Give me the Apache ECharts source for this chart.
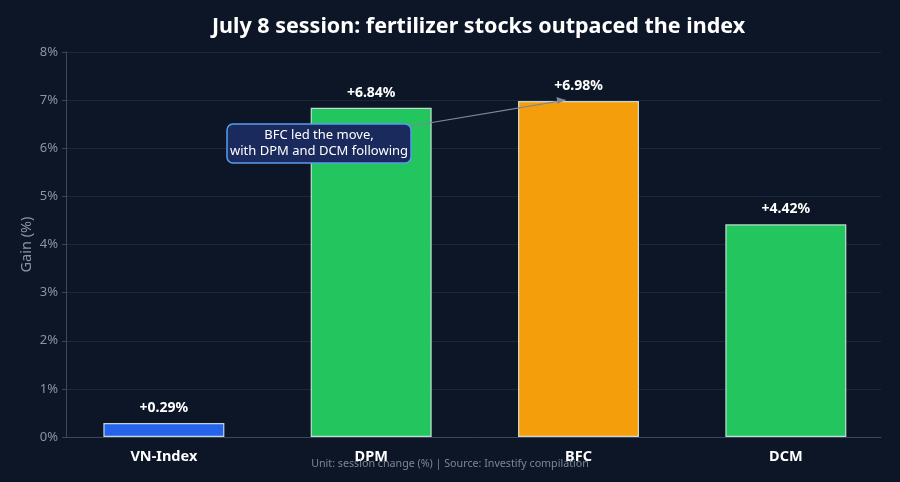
<!DOCTYPE html>
<html>
<head>
    <meta charset="utf-8">
    <title>ECharts</title>
    <script src="https://cdn.jsdelivr.net/npm/echarts@6/dist/echarts.min.js"></script>
    <style>
      body, canvas {
        padding: 0;
        margin: 0;
        background: #0c1626;
      }
    </style>
</head>
<body>
    <div id="main"></div>
    <script type="text/javascript">
      const main = document.getElementById('main')
      main.style.width = window.innerWidth + 'px'
      main.style.height = window.innerHeight + 'px'
      var myChart = echarts.init(main);

      const categories = ['VN-Index', 'DPM', 'BFC', 'DCM'];
      const gains = [0.29, 6.84, 6.98, 4.42];
      const barColors = ['#2563eb', '#22c55e', '#f59e0b', '#22c55e'];
      const yTicks = [0, 8, 1]; // min, max, interval

      const font = '"Noto Sans", sans-serif';

      option = {
        backgroundColor: '#0c1626',
        animation: false,
        textStyle: { fontFamily: font },
        title: {
          text: 'July 8 session: fertilizer stocks outpaced the index',
          left: 473.5,
          textAlign: 'center',
          top: 11,
          textStyle: { color: '#ffffff', fontSize: 21.5, fontWeight: 'bold', fontFamily: font }
        },
        grid: { left: 66, right: 19, top: 52, bottom: 45 },
        // category positions on a numeric scale so the outer margins match
        xAxis: {
          type: 'value',
          min: -0.472,
          max: 3.459,
          axisLine: { show: true, onZero: false, lineStyle: { color: '#3b475a' } },
          axisTick: { show: false },
          splitLine: { show: false },
          axisLabel: {
            customValues: categories.map((c, i) => i),
            formatter: v => categories[Math.round(v)] || '',
            color: '#ffffff', fontSize: 14.5, fontWeight: 'bold', margin: 12, fontFamily: font
          }
        },
        yAxis: {
          type: 'value',
          min: yTicks[0],
          max: yTicks[1],
          interval: yTicks[2],
          name: 'Gain (%)',
          nameLocation: 'middle',
          nameGap: 32,
          nameMoveOverlap: false,
          nameTextStyle: { color: '#8a94a6', fontSize: 14.5, fontFamily: font },
          axisLine: { show: true, onZero: false, lineStyle: { color: '#3b475a' } },
          axisTick: { show: true, length: 4, lineStyle: { color: '#3b475a' } },
          axisLabel: { color: '#8a94a6', fontSize: 13, formatter: '{value}%', fontFamily: font },
          splitLine: { lineStyle: { color: '#1c283a' } }
        },
        series: [{
          type: 'bar',
          barWidth: 121,
          data: gains.map((v, i) => ({
            value: [i, v],
            itemStyle: { color: barColors[i] }
          })),
          itemStyle: { borderColor: 'rgba(225,240,235,0.85)', borderWidth: 1.2 },
          label: {
            show: true,
            position: 'top',
            distance: 8,
            color: '#ffffff',
            fontSize: 14,
            fontWeight: 'bold',
            fontFamily: font,
            formatter: p => '+' + p.value[1].toFixed(2) + '%'
          }
        }]
      };
      myChart.setOption(option);

      // annotation pointing at BFC bar top
      const tip = myChart.convertToPixel({ gridIndex: 0 }, [2, gains[2]]);
      myChart.setOption({
        graphic: [
          {
            type: 'line',
            z: 100,
            shape: { x1: 405, y1: 127, x2: tip[0] - 13, y2: tip[1] - 1 },
            style: { stroke: '#7d8898', lineWidth: 1.2 }
          },
          {
            type: 'polygon',
            z: 100,
            shape: { points: [[tip[0] - 13, tip[1] - 1], [tip[0] - 22, tip[1] - 4], [tip[0] - 21, tip[1] + 3]] },
            style: { fill: '#7d8898' }
          },
          {
            type: 'rect',
            z: 101,
            shape: { x: 227, y: 124, width: 184, height: 39, r: 6 },
            style: { fill: '#1a2a5c', stroke: '#5b9cf0', lineWidth: 1.5 }
          },
          {
            type: 'text',
            z: 102,
            x: 319,
            y: 143.5,
            style: {
              text: 'BFC led the move,\nwith DPM and DCM following',
              fill: '#ffffff',
              fontSize: 13,
              fontFamily: font,
              align: 'center',
              verticalAlign: 'middle',
              lineHeight: 16
            }
          },
          {
            type: 'text',
            z: 102,
            left: 'center',
            top: 458,
            style: {
              text: 'Unit: session change (%) | Source: Investify compilation',
              fill: '#7c8697',
              fontSize: 10.7,
              fontFamily: font
            }
          }
        ]
      });
    </script>
</body>
</html>
